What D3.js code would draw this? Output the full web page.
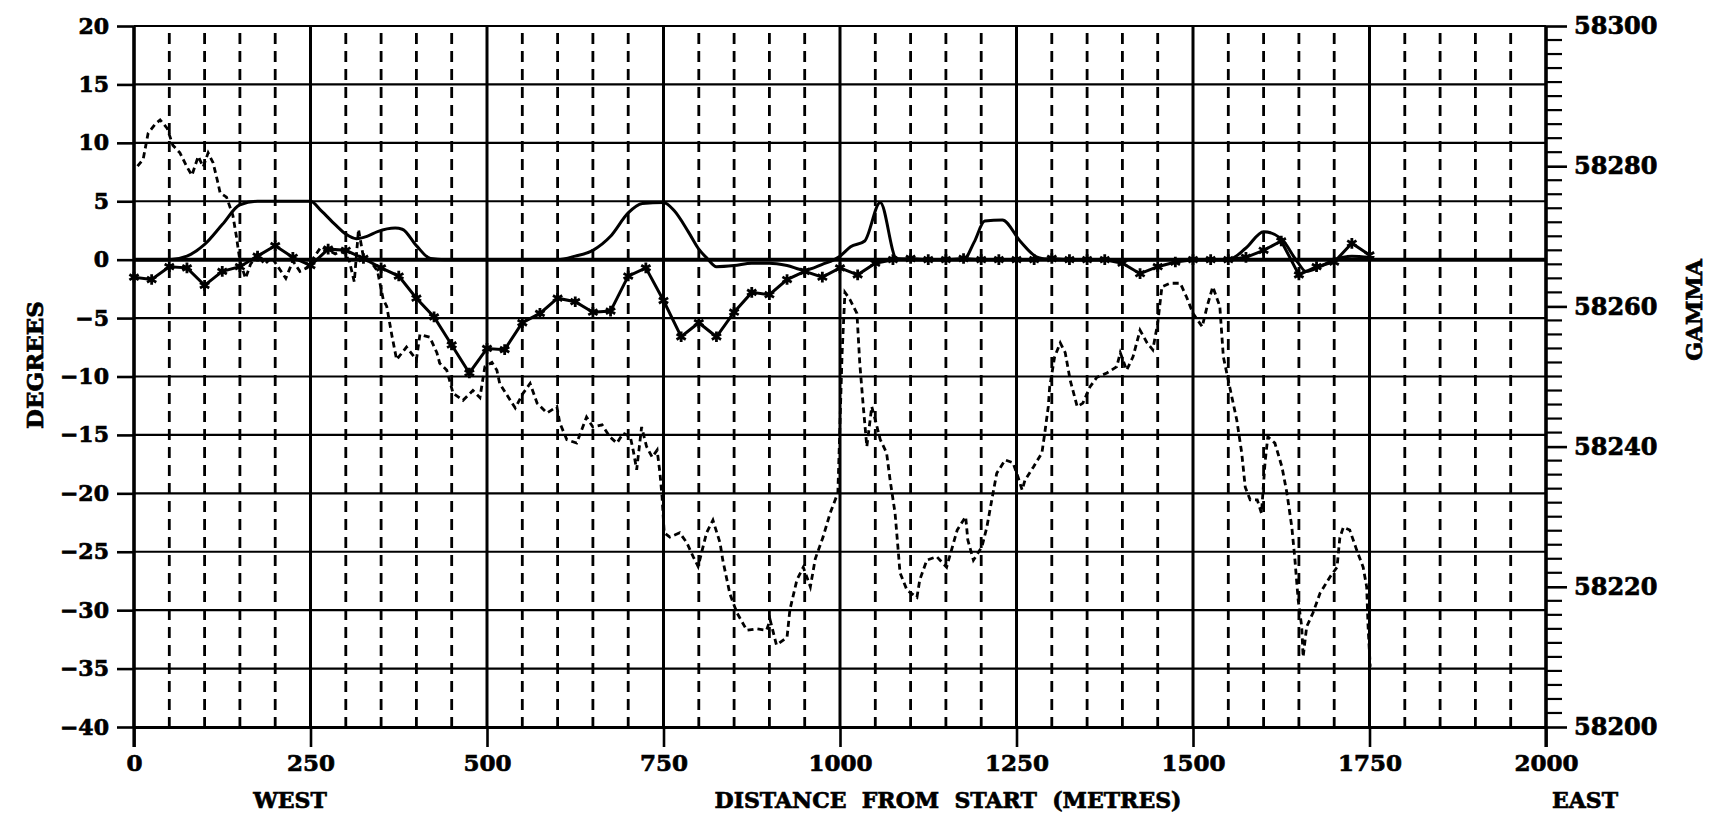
<!DOCTYPE html>
<html>
<head>
<meta charset="utf-8">
<script src="https://cdn.jsdelivr.net/npm/d3@7"></script>
<style>
  body { margin: 0; background: #fff; }
  svg text { font-family: "DejaVu Serif", serif; font-weight: bold; fill: #000; stroke: #000; stroke-width: 0.7px; }
</style>
</head>
<body>
<div id="graph"></div>
<script>
// tick values
const degTicks = [20, 15, 10, 5, 0, -5, -10, -15, -20, -25, -30, -35, -40];
const distTicks = [0, 250, 500, 750, 1000, 1250, 1500, 1750, 2000];
const gammaTicks = [58300, 58280, 58260, 58240, 58220, 58200];

// smooth solid curve (degrees)
const solidDist = [0, 50, 75, 100, 125, 150, 175, 200, 250, 265, 285, 300, 315, 330, 345, 370, 380, 400, 420, 440,
  600, 625, 650, 675, 700, 720, 750, 765, 785, 800, 812, 825, 850, 875, 900, 925, 950, 975, 1000, 1015, 1035, 1057,
  1080, 1100, 1175, 1190, 1205, 1230, 1255, 1280, 1300, 1550, 1575, 1600, 1625, 1648, 1660, 1680, 1700, 1725, 1750];
const solidDeg = [0, 0, 0.3, 1.3, 3.0, 4.7, 5.0, 5.0, 5.0, 4.2, 3.0, 2.2, 1.8, 2.0, 2.4, 2.7, 2.6, 1.2, 0.1, 0,
  0, 0.3, 0.8, 2.0, 4.0, 4.8, 4.9, 4.2, 2.4, 0.9, 0.1, -0.6, -0.5, -0.3, -0.3, -0.5, -0.9, -0.4, 0.3, 1.1, 1.6, 4.9,
  0.1, 0, 0, 1.5, 3.3, 3.4, 1.6, 0.2, 0, 0, 1.0, 2.4, 1.8, -0.2, -1.0, -0.6, 0, 0.3, 0.2];

// line with star markers (degrees), every 25 m
const starDist = [0, 25, 50, 75, 100, 125, 150, 175, 200, 225, 250, 275, 300, 325, 350, 375, 400, 425, 450, 475,
  500, 525, 550, 575, 600, 625, 650, 675, 700, 725, 750, 775, 800, 825, 850, 875, 900, 925, 950, 975,
  1000, 1025, 1050, 1075, 1100, 1125, 1150, 1175, 1200, 1225, 1250, 1275, 1300, 1325, 1350, 1375, 1400, 1425, 1450, 1475,
  1500, 1525, 1550, 1575, 1600, 1625, 1650, 1675, 1700, 1725, 1750];
const starDeg = [-1.5, -1.7, -0.6, -0.7, -2.2, -1.0, -0.6, 0.3, 1.2, 0.2, -0.5, 0.9, 0.8, 0.1, -0.7, -1.4, -3.3, -4.9, -7.3, -9.7,
  -7.6, -7.7, -5.4, -4.6, -3.3, -3.6, -4.5, -4.4, -1.4, -0.7, -3.5, -6.6, -5.4, -6.6, -4.5, -2.8, -3.0, -1.7, -1.0, -1.5,
  -0.7, -1.3, -0.3, 0, 0.1, 0, 0, 0.1, 0, 0, 0, 0, 0.1, 0, 0, 0, -0.3, -1.2, -0.6, -0.2,
  0, 0, 0, 0.2, 0.8, 1.6, -1.3, -0.6, -0.2, 1.4, 0.4];

// dashed magnetic profile (gamma, right axis)
const gammaDist = [5, 13, 20, 30, 37, 47, 55, 65, 75, 82, 91, 98, 105, 112, 118, 122, 131, 140, 145, 150,
  158, 165, 175, 185, 195, 205, 215, 225, 235, 245, 255, 265, 275, 285, 295, 305, 312, 318, 325, 335,
  345, 353, 358, 365, 372, 386, 400, 405, 419, 429, 433, 443, 452, 466, 480, 490, 497, 507, 514, 518,
  528, 540, 551, 561, 571, 585, 599, 603, 613, 627, 641, 650, 663, 674, 684, 693, 703, 707, 712, 719,
  726, 734, 741, 745, 748, 751, 759, 773, 783, 792, 799, 811, 820, 830, 834, 844, 854, 868, 882, 896,
  901, 910, 925, 929, 939, 948, 958, 965, 976, 986, 997, 1003, 1007, 1014, 1024, 1028, 1033, 1038, 1045, 1050,
  1057, 1066, 1071, 1078, 1082, 1085, 1095, 1109, 1113, 1123, 1137, 1151, 1166, 1178, 1181, 1189, 1201, 1208, 1215, 1222,
  1234, 1245, 1252, 1258, 1262, 1274, 1286, 1290, 1295, 1297, 1304, 1312, 1319, 1326, 1336, 1344, 1354, 1364, 1378, 1392,
  1397, 1406, 1415, 1425, 1435, 1443, 1450, 1456, 1467, 1482, 1491, 1500, 1513, 1520, 1528, 1538, 1543, 1552, 1562, 1569,
  1574, 1581, 1591, 1597, 1602, 1606, 1616, 1626, 1633, 1640, 1644, 1649, 1654, 1656, 1661, 1670, 1680, 1694, 1704, 1708,
  1713, 1722, 1732, 1741, 1746, 1748, 1751];
const gammaVal = [58280, 58281, 58284.7, 58286, 58286.6, 58285.4, 58283, 58281.9, 58279.9, 58278.7, 58281.4, 58279.9, 58281.9, 58280.5, 58278, 58276.2, 58275.6, 58273, 58270, 58266.5,
  58264, 58266, 58267.5, 58266, 58267, 58265.5, 58264, 58266.5, 58265, 58265.5, 58267, 58268.5, 58268, 58267.5, 58268, 58266.5, 58263.5, 58271, 58267, 58266.5,
  58265, 58261, 58260, 58256, 58252.4, 58254.2, 58252.4, 58256, 58255.6, 58253.4, 58251.9, 58250.9, 58247.6, 58246.6, 58248, 58247, 58251.4, 58252, 58250.9, 58249,
  58247.4, 58245.5, 58247.6, 58249, 58246.2, 58244.8, 58245.7, 58243.4, 58241, 58240.5, 58244.2, 58242.8, 58243.1, 58241.4, 58240.5, 58241.9, 58241.4, 58239.5, 58236.7, 58242.8,
  58240, 58238.5, 58239.5, 58236.2, 58232.8, 58227.7, 58227.1, 58227.7, 58226.3, 58224.3, 58222.9, 58227.7, 58229.5, 58226.3, 58223.8, 58219, 58216.3, 58213.8, 58214, 58213.8,
  58215.3, 58211.7, 58212.8, 58216.7, 58221, 58222.8, 58220, 58224, 58227.1, 58230.5, 58233.4, 58253.4, 58262, 58261, 58259, 58251.9, 58245.7, 58240, 58245.7, 58243.8,
  58241, 58239.1, 58235.2, 58230.5, 58225.7, 58222, 58219.5, 58218.5, 58221, 58223.8, 58224.3, 58222.8, 58228.1, 58230, 58226.7, 58223.8, 58225.7, 58228.5, 58232.4, 58236.2,
  58238.1, 58237.7, 58235.7, 58233.8, 58235.2, 58237.1, 58239.1, 58241.9, 58245.7, 58248.5, 58252.8, 58254.8, 58253.4, 58249.5, 58245.7, 58246.2, 58248.5, 58249.9, 58250.5, 58251.4,
  58253.4, 58250.9, 58252.8, 58256.6, 58254.8, 58253.8, 58257.6, 58262.8, 58263.3, 58263.3, 58261.3, 58259, 58257.1, 58260, 58262.8, 58260, 58252.8, 58248.5, 58243.8, 58239.1,
  58234.2, 58232.4, 58232.4, 58230.5, 58237.7, 58241.4, 58240.5, 58237.1, 58233.4, 58228.5, 58224.3, 58218.1, 58214.3, 58210, 58214.3, 58216.3, 58219.1, 58221.4, 58222.8, 58227,
  58228.5, 58228.1, 58225.2, 58222.8, 58220, 58214.3, 58208.6];

// set the dimensions and margins of the graph
const W = 1717, H = 825;
const margin = {top: 26, right: 171, bottom: 98, left: 134};
const width = W - margin.left - margin.right,
  height = H - margin.top - margin.bottom;

const svg = d3.select("#graph")
  .append("svg")
    .attr("width", W)
    .attr("height", H)
  .append("g")
    .attr("transform", `translate(${margin.left}, ${margin.top})`);

const x = d3.scaleLinear().domain([0, 2000]).range([0, width]);
const y = d3.scaleLinear().domain([-40, 20]).range([height, 0]);
const yG = d3.scaleLinear().domain([58200, 58300]).range([height, 0]);

// dashed vertical grid every 50 m
svg.append("g")
  .selectAll("line")
  .data(d3.range(50, 2000, 50).filter(d => d % 250 !== 0))
  .join("line")
    .attr("x1", d => x(d)).attr("x2", d => x(d))
    .attr("y1", 7).attr("y2", height)
    .attr("stroke", "#000").attr("stroke-width", 2.8)
    .attr("stroke-dasharray", "11,7");

// horizontal grid every 5 degrees
svg.append("g")
  .selectAll("line")
  .data(degTicks)
  .join("line")
    .attr("x1", 0).attr("x2", width)
    .attr("y1", d => y(d)).attr("y2", d => y(d))
    .attr("stroke", "#000")
    .attr("stroke-width", d => d === 0 ? 4 : 2.2);

// solid vertical grid every 250 m
svg.append("g")
  .selectAll("line")
  .data(distTicks)
  .join("line")
    .attr("x1", d => x(d)).attr("x2", d => x(d))
    .attr("y1", 0).attr("y2", height)
    .attr("stroke", "#000").attr("stroke-width", 3);

// axes
const leftAxis = svg.append("g")
  .call(d3.axisLeft(y).tickValues(degTicks).tickSize(17).tickSizeOuter(0).tickPadding(8)
    .tickFormat(d => d < 0 ? "\u2212" + Math.abs(d) : d));

const bottomAxis = svg.append("g")
  .attr("transform", `translate(0, ${height})`)
  .call(d3.axisBottom(x).tickValues(distTicks).tickSize(20).tickSizeOuter(0).tickPadding(8)
    .tickFormat(d3.format("d")));

// minor gamma ticks every 2
svg.append("g")
  .attr("transform", `translate(${width}, 0)`)
  .selectAll("line")
  .data(d3.range(58202, 58300, 2).filter(d => d % 20 !== 0))
  .join("line")
    .attr("x1", 0).attr("x2", 16)
    .attr("y1", d => yG(d)).attr("y2", d => yG(d))
    .attr("stroke", "#000").attr("stroke-width", 2.2);

const rightAxis = svg.append("g")
  .attr("transform", `translate(${width}, 0)`)
  .call(d3.axisRight(yG).tickValues(gammaTicks).tickSize(21).tickSizeOuter(0).tickPadding(7)
    .tickFormat(d3.format("d")));

[leftAxis, bottomAxis, rightAxis].forEach(a => {
  a.select(".domain").attr("stroke", "#000").attr("stroke-width", 3.2);
  a.selectAll(".tick line").attr("stroke", "#000").attr("stroke-width", 2.6);
  a.selectAll("text").attr("font-family", "DejaVu Serif").attr("font-weight", "bold").attr("fill", "#000");
});
leftAxis.selectAll("text").attr("font-size", 22);
bottomAxis.selectAll("text").attr("font-size", 23);
rightAxis.selectAll("text").attr("font-size", 24);
// axis lines run down to the tick length at the bottom
leftAxis.select(".domain").attr("d", `M0,0V${height + 20}`);
rightAxis.select(".domain").attr("d", `M0,0V${height + 20}`);

// dashed gamma profile
const gammaPts = gammaDist.map((d, i) => [d, gammaVal[i]]);
svg.append("path")
  .datum(gammaPts)
  .attr("fill", "none")
  .attr("stroke", "#000")
  .attr("stroke-width", 2.8)
  .attr("stroke-dasharray", "6,4")
  .attr("d", d3.line().x(d => x(d[0])).y(d => yG(d[1])));

// smooth solid curve
const solidPts = solidDist.map((d, i) => [d, solidDeg[i]]);
svg.append("path")
  .datum(solidPts)
  .attr("fill", "none")
  .attr("stroke", "#000")
  .attr("stroke-width", 3)
  .attr("d", d3.line().x(d => x(d[0])).y(d => y(d[1])).curve(d3.curveMonotoneX));

// starred line
const starPts = starDist.map((d, i) => [d, starDeg[i]]);
svg.append("path")
  .datum(starPts)
  .attr("fill", "none")
  .attr("stroke", "#000")
  .attr("stroke-width", 3)
  .attr("d", d3.line().x(d => x(d[0])).y(d => y(d[1])));

svg.append("g")
  .selectAll("path")
  .data(starPts)
  .join("path")
    .attr("transform", d => `translate(${x(d[0])}, ${y(d[1])})`)
    .attr("d", d3.symbol(d3.symbolAsterisk, 80))
    .attr("fill", "none")
    .attr("stroke", "#000")
    .attr("stroke-width", 2.8);

// titles
svg.append("text")
  .attr("transform", `translate(${43 - margin.left}, ${365 - margin.top}) rotate(-90)`)
  .attr("text-anchor", "middle")
  .attr("font-size", 23)
  .text("DEGREES");

svg.append("text")
  .attr("transform", `translate(${1702 - margin.left}, ${310 - margin.top}) rotate(-90)`)
  .attr("text-anchor", "middle")
  .attr("font-size", 22)
  .text("GAMMA");

svg.append("text")
  .attr("x", 290 - margin.left).attr("y", 808 - margin.top)
  .attr("text-anchor", "middle").attr("font-size", 22)
  .text("WEST");

svg.append("text")
  .attr("x", 1585 - margin.left).attr("y", 808 - margin.top)
  .attr("text-anchor", "middle").attr("font-size", 22)
  .text("EAST");

svg.append("text")
  .attr("x", 948 - margin.left).attr("y", 808 - margin.top)
  .attr("text-anchor", "middle").attr("font-size", 22)
  .attr("xml:space", "preserve")
  .style("white-space", "pre")
  .text("DISTANCE  FROM  START  (METRES)");
</script>
</body>
</html>
